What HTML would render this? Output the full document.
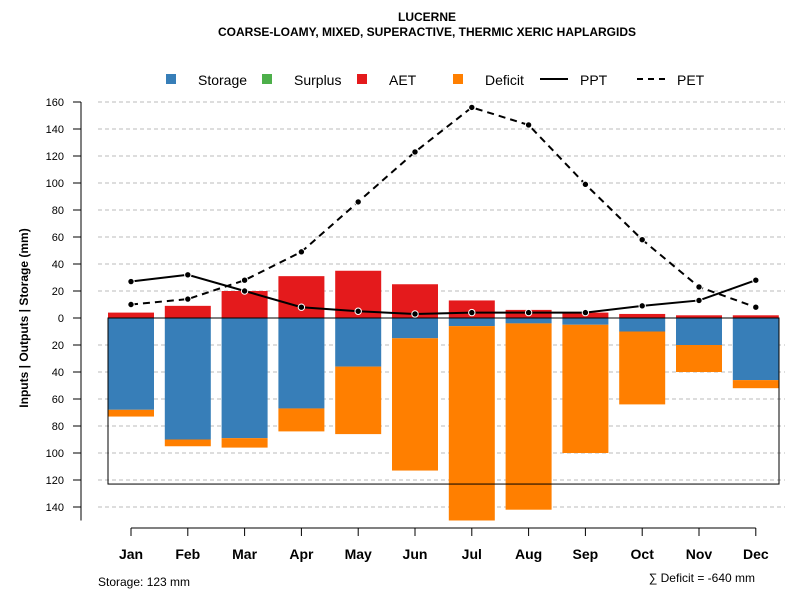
<!DOCTYPE html>
<html><head><meta charset="utf-8"><style>
body{margin:0;background:#fff}
svg text{font-family:"Liberation Sans",Arial,sans-serif}
</style></head><body>
<svg id="chart" width="800" height="600" xmlns="http://www.w3.org/2000/svg">
<text x="427" y="21" text-anchor="middle" font-size="12" font-weight="bold">LUCERNE</text>
<text x="427" y="36" text-anchor="middle" font-size="12" font-weight="bold">COARSE-LOAMY, MIXED, SUPERACTIVE, THERMIC XERIC HAPLARGIDS</text>
<g id="legend">
<rect x="166" y="74" width="10" height="10" fill="#377EB8"/>
<text x="198" y="85" font-size="14">Storage</text>
<rect x="262" y="74" width="10" height="10" fill="#4DAF4A"/>
<text x="294" y="85" font-size="14">Surplus</text>
<rect x="357" y="74" width="10" height="10" fill="#E41A1C"/>
<text x="389" y="85" font-size="14">AET</text>
<rect x="453" y="74" width="10" height="10" fill="#FF7F00"/>
<text x="485" y="85" font-size="14">Deficit</text>
<line x1="540" y1="79" x2="568" y2="79" stroke="#000" stroke-width="2"/>
<text x="580" y="85" font-size="14">PPT</text>
<line x1="637" y1="79" x2="665" y2="79" stroke="#000" stroke-width="2" stroke-dasharray="6,5"/>
<text x="677" y="85" font-size="14">PET</text>
</g>
<text transform="translate(28,318) rotate(-90)" text-anchor="middle" font-size="12" font-weight="bold">Inputs | Outputs | Storage    (mm)</text>
<text x="98" y="586" font-size="12">Storage: 123 mm</text>
<text x="755" y="582" text-anchor="end" font-size="12">∑ Deficit = -640 mm</text>
<g id="grid"></g><g id="bars"></g><g id="lines"></g><g id="axes"></g>
</svg>
<script>
const months=["Jan","Feb","Mar","Apr","May","Jun","Jul","Aug","Sep","Oct","Nov","Dec"];
const aet=[4,9,20,31,35,25,13,6,4,3,2,2];
const storage=[68,90,89,67,36,15,6,4,5,10,20,46];
const deficit=[5,5,7,17,50,98,144,138,95,54,20,6];
const ppt=[27,32,20,8,5,3,4,4,4,9,13,28];
const pet=[10,14,28,49,86,123,156,143,99,58,23,8];
const yTicks=[160,140,120,100,80,60,40,20,0,-20,-40,-60,-80,-100,-120,-140];
const storageCap=123;
const NS="http://www.w3.org/2000/svg";
function y(v){return 318-v*1.35;}
function x(i){return 131+i*56.8;}
function mk(t,a,p){const e=document.createElementNS(NS,t);for(const k in a)e.setAttribute(k,a[k]);document.getElementById(p).appendChild(e);return e;}
yTicks.forEach(v=>{
 if(v!==0){const g=mk('line',{x1:98,x2:785,y1:y(v),y2:y(v),stroke:'#bbb','stroke-dasharray':'4,3'},'grid');
 
 }
 const t=mk('line',{x1:73,x2:81,y1:y(v),y2:y(v),stroke:'#000'},'axes');
 
 
 const l=mk('text',{x:64,y:y(v)+4,'text-anchor':'end','font-size':11},'axes');
 l.textContent=Math.abs(v);
 
 
});
const ya=mk('line',{x1:81,x2:81,y1:y(160),y2:y(-150),stroke:'#000'},'axes');


const xa=mk('line',{x1:x(0),x2:x(11),y1:528,y2:528,stroke:'#000'},'axes');


const bw=46;
months.forEach((m,i)=>{
 const tk=mk('line',{x1:x(i),x2:x(i),y1:528,y2:536,stroke:'#000'},'axes');
 
 
 const lb=mk('text',{x:x(i),y:559,'text-anchor':'middle','font-size':14,'font-weight':'bold'},'axes');
 lb.textContent=m;
 
 
 const a=mk('rect',{x:x(i)-bw/2,y:y(aet[i]),width:bw,height:aet[i]*1.35,fill:'#E41A1C'},'bars');
 
 
 const s=mk('rect',{x:x(i)-bw/2,y:y(0),width:bw,height:storage[i]*1.35,fill:'#377EB8'},'bars');
 
 
 const d=mk('rect',{x:x(i)-bw/2,y:y(-storage[i]),width:bw,height:deficit[i]*1.35,fill:'#FF7F00'},'bars');
 
 
});
const box=mk('rect',{x:108,y:y(0),width:671,height:storageCap*1.35,fill:'none',stroke:'#000'},'bars');


function series(vals,name,dash){
 const p=mk('polyline',{points:vals.map((v,i)=>x(i)+','+y(v)).join(' '),fill:'none',stroke:'#000','stroke-width':2,'stroke-dasharray':dash},'lines');
 
 
 vals.forEach((v,i)=>{const c=mk('circle',{cx:x(i),cy:y(v),r:3.2,fill:'#000',stroke:'#fff','stroke-width':1},'lines');
 
 });
}
series(pet,'pet','7,5');
series(ppt,'ppt','none');
</script>
</body></html>
